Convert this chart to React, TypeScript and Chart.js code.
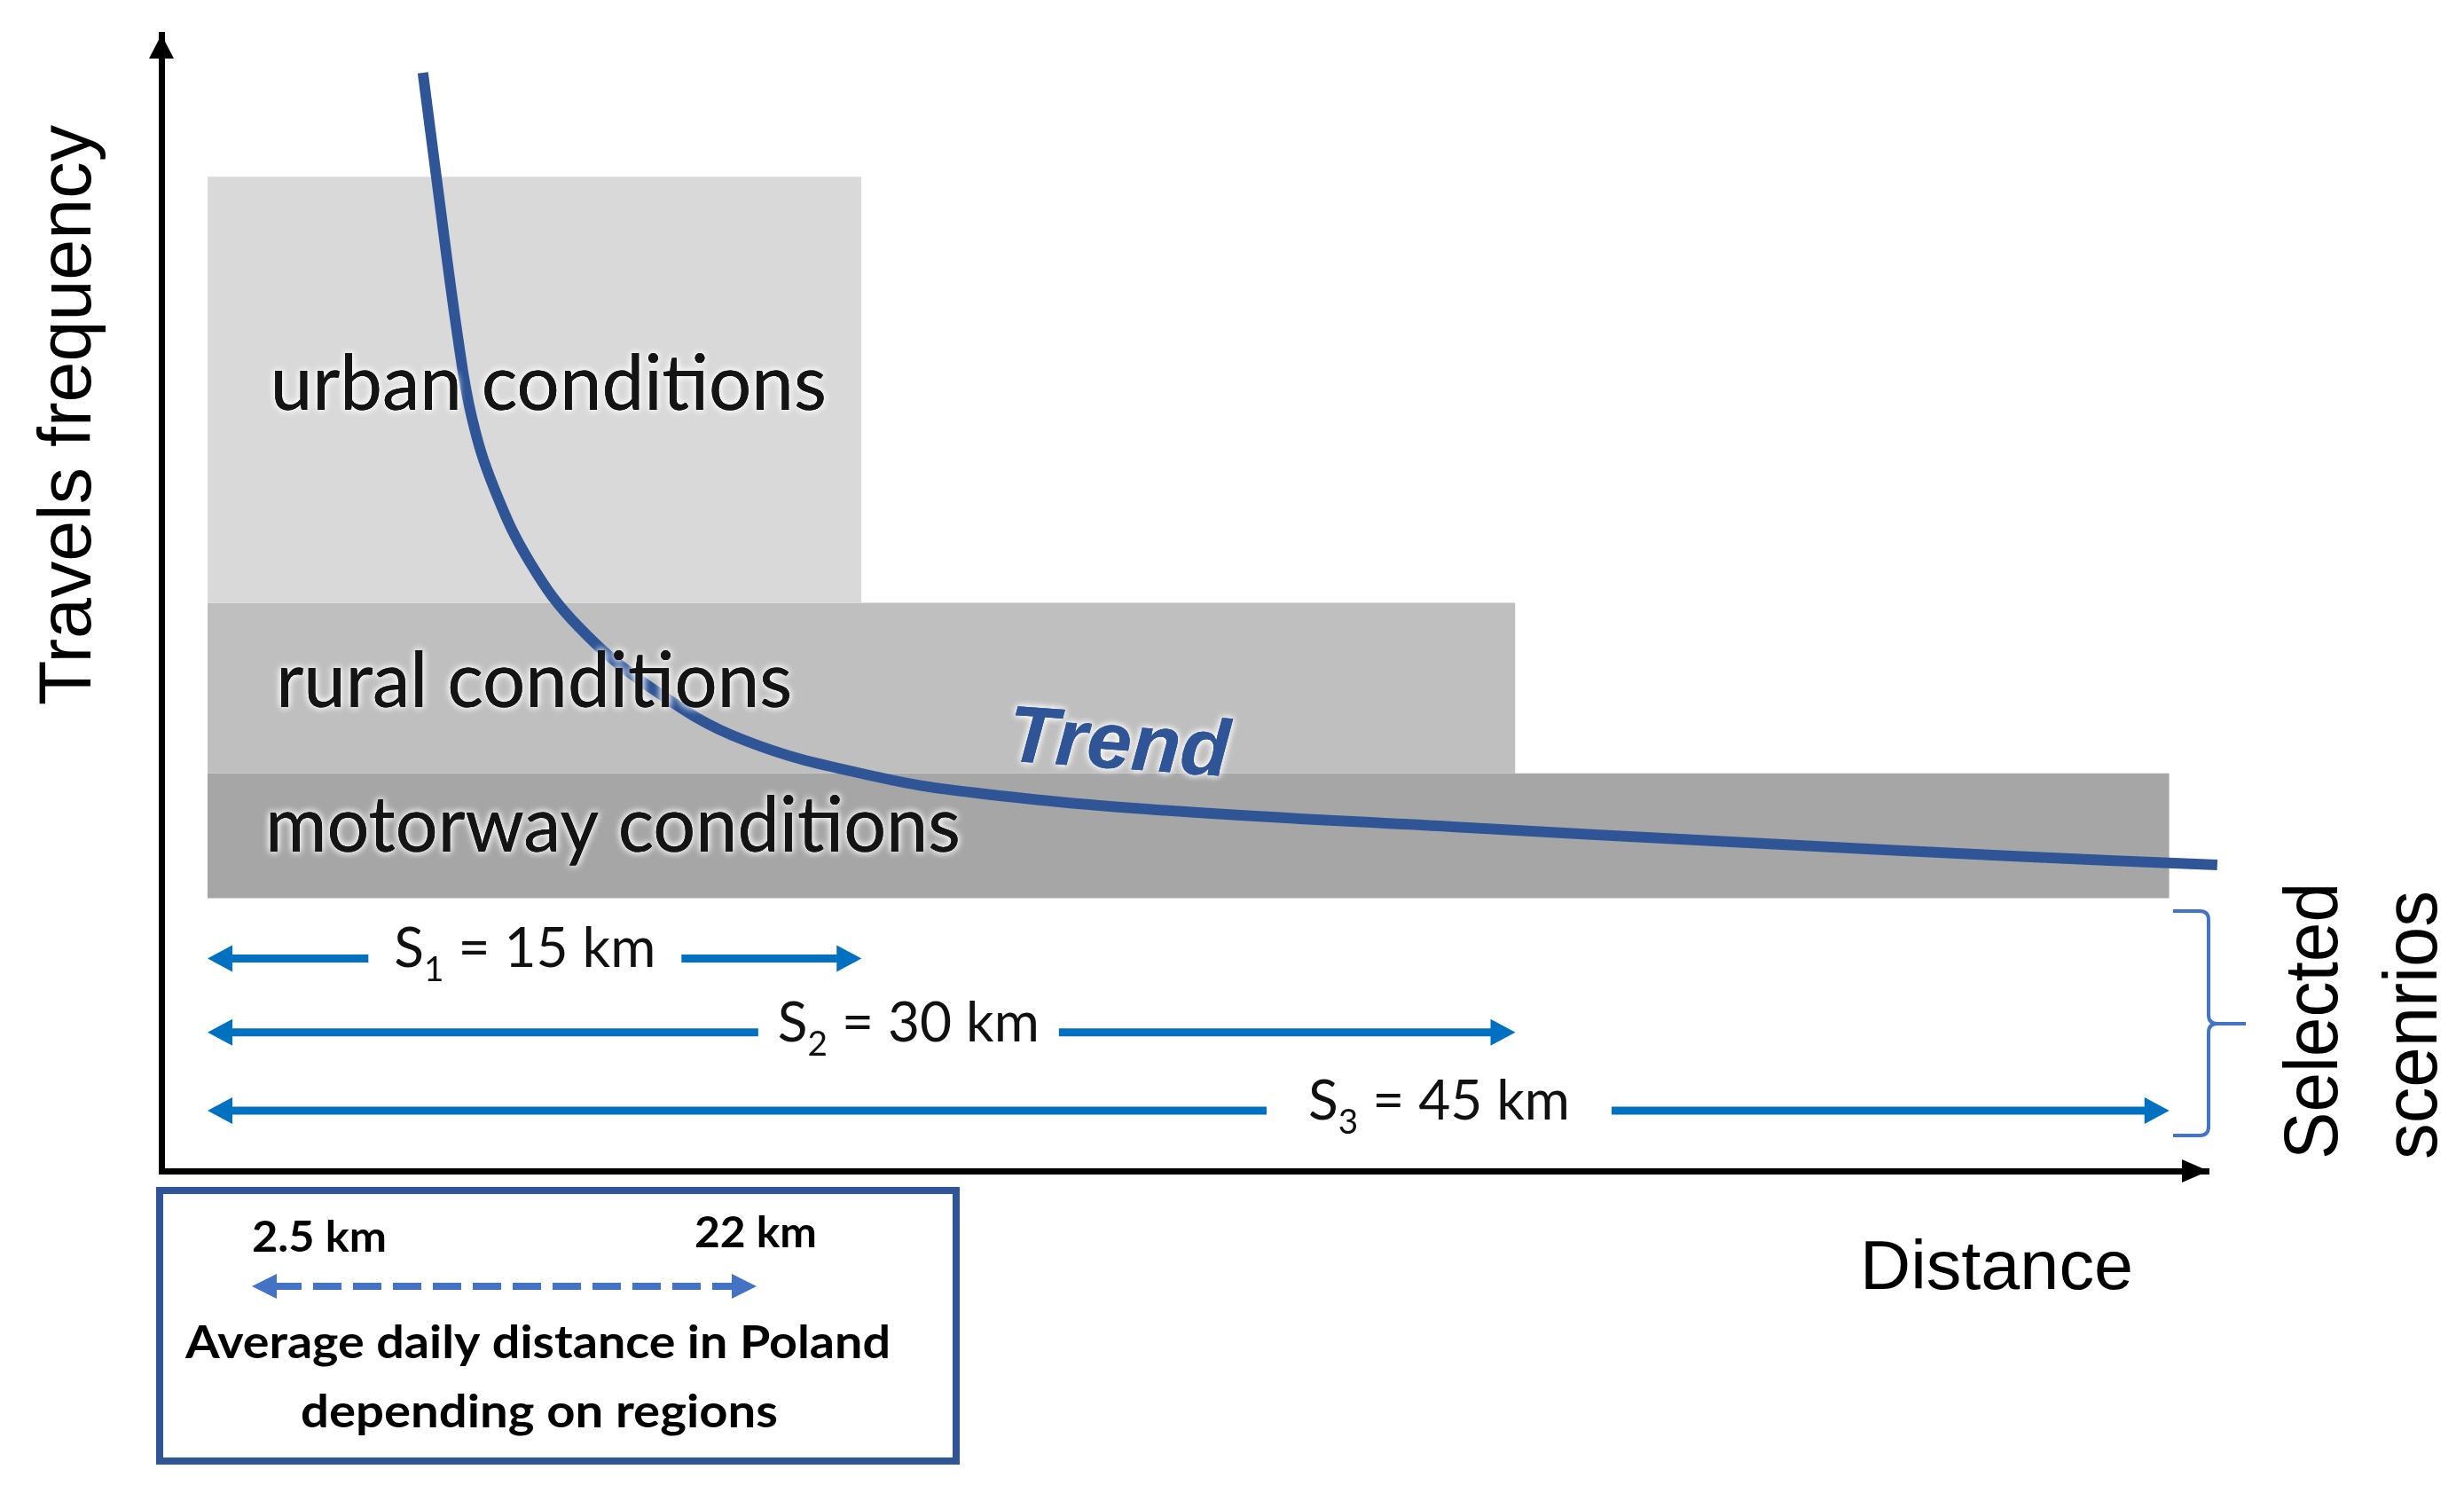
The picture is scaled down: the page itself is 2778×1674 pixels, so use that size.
import React, { useEffect, useRef } from "react";
import { Chart, registerables } from "chart.js";

Chart.register(...registerables);

const W = 2778;
const H = 1674;

// ---- Data ----
const regionNames = ["urban conditions", "rural conditions", "motorway conditions"];
const regionMaxKm = [15, 30, 45];
const regionTop = [87.5, 50, 35];
const regionBottom = [50, 35, 24];
const regionColors = ["#D9D9D9", "#BFBFBF", "#A6A6A6"];

const trendKm = [4.94, 5.25, 5.74, 6.06, 6.57, 7.41, 8.52, 10.19, 12.29, 15.38, 17.82, 22.12, 28.55, 34.95, 41.38, 46.1];
const trendFreq = [96.64, 87.43, 73.38, 66.35, 60.11, 53.47, 47.85, 42.47, 37.94, 34.66, 33.18, 31.69, 30.29, 28.96, 27.71, 26.93];

const scenarioSubs = ["1", "2", "3"];
const scenarioKm = [15, 30, 45];
const scenarioLevel = [18.7, 12.2, 5.3];

const legendLabels = ["2.5 km", "22 km"];
const legendText = ["Average daily distance in Poland", "depending on regions"];

const xAxisTitle = "Distance";
const yAxisTitle = "Travels frequency";
const bracketText = ["Selected", "scenrios"];
const trendLabel = "Trend";

// ---- Layout / style (not data) ----
const regionLabelPos = [
  { km: 1.44, f: 67.0, w: 627 },
  { km: 1.57, f: 40.8, w: 582 },
  { km: 1.32, f: 28.1, w: 784 },
];
const scenarioLabelKm = [7.28, 16.08, 28.25];
const scenarioGap = [29, 22, 47];

function fitText(ctx: CanvasRenderingContext2D, text: string, x: number, y: number, font: string, width: number) {
  ctx.font = font;
  const w = ctx.measureText(text).width;
  ctx.save();
  ctx.translate(x, y);
  ctx.scale(width / w, 1);
  ctx.textAlign = "left";
  ctx.textBaseline = "alphabetic";
  ctx.fillText(text, 0, 0);
  ctx.restore();
}

function withGlow(ctx: CanvasRenderingContext2D, draw: () => void) {
  ctx.save();
  ctx.shadowColor = "rgba(255,255,255,1)";
  ctx.shadowBlur = 9;
  draw();
  draw();
  ctx.restore();
  draw();
}

function head(ctx: CanvasRenderingContext2D, tipX: number, y: number, dir: number, len: number, half: number) {
  ctx.beginPath();
  ctx.moveTo(tipX, y);
  ctx.lineTo(tipX - dir * len, y - half);
  ctx.lineTo(tipX - dir * len, y + half);
  ctx.closePath();
  ctx.fill();
}

const overlay = {
  id: "overlay",
  afterDatasetsDraw(chart: any) {
    const ctx: CanvasRenderingContext2D = chart.ctx;
    const xs = chart.scales.x;
    const ys = chart.scales.y;
    const area = chart.chartArea;
    const px = (v: number) => xs.getPixelForValue(v);
    const py = (v: number) => ys.getPixelForValue(v);

    // region labels
    regionNames.forEach((name, i) => {
      const p = regionLabelPos[i];
      withGlow(ctx, () => {
        ctx.fillStyle = "#141414";
        fitText(ctx, name, px(p.km), py(p.f), "88px Lato", p.w);
      });
    });

    // Trend label
    withGlow(ctx, () => {
      ctx.save();
      ctx.translate(px(18.33), py(36.1));
      ctx.rotate((4 * Math.PI) / 180);
      ctx.fillStyle = "#2F5597";
      fitText(ctx, trendLabel, 0, 0, "bold italic 90px 'Liberation Sans'", 250);
      ctx.restore();
    });

    // Axis arrowheads
    ctx.fillStyle = "#000";
    ctx.beginPath();
    ctx.moveTo(area.left, area.top);
    ctx.lineTo(area.left - 14, area.top + 27);
    ctx.lineTo(area.left + 14, area.top + 27);
    ctx.closePath();
    ctx.fill();
    head(ctx, area.right, area.bottom, 1, 30, 13);

    // Scenario arrows
    const blue = "#0070C0";
    scenarioKm.forEach((km, i) => {
      const y = py(scenarioLevel[i]);
      const x1 = px(0);
      const x2 = px(km);
      const cx = px(scenarioLabelKm[i]);
      const mainFont = "61px Lato";
      const subFont = "38px Lato";
      const rest = " = " + km + " km";
      ctx.font = mainFont;
      const wS = ctx.measureText("S").width;
      const wR = ctx.measureText(rest).width;
      ctx.font = subFont;
      const wSub = ctx.measureText(scenarioSubs[i]).width;
      const total = wS + wSub + wR;
      const target = 295;
      const sx = target / total;
      const tl = cx - target / 2;
      const tr = cx + target / 2;
      ctx.save();
      ctx.translate(tl, y + 10);
      ctx.scale(sx, 1);
      ctx.fillStyle = "#111";
      ctx.font = mainFont;
      ctx.textBaseline = "alphabetic";
      ctx.textAlign = "left";
      ctx.fillText("S", 0, 0);
      ctx.font = subFont;
      ctx.fillText(scenarioSubs[i], wS, 16);
      ctx.font = mainFont;
      ctx.fillText(rest, wS + wSub, 0);
      ctx.restore();

      ctx.strokeStyle = blue;
      ctx.fillStyle = blue;
      ctx.lineWidth = 9;
      ctx.lineCap = "butt";
      ctx.beginPath();
      ctx.moveTo(x1 + 20, y);
      ctx.lineTo(tl - scenarioGap[i], y);
      ctx.moveTo(tr + scenarioGap[i], y);
      ctx.lineTo(x2 - 20, y);
      ctx.stroke();
      head(ctx, x1, y, -1, 28, 15);
      head(ctx, x2, y, 1, 28, 15);
    });

    // Bracket
    ctx.save();
    ctx.strokeStyle = "#4472C4";
    ctx.lineWidth = 4;
    ctx.lineJoin = "round";
    ctx.beginPath();
    const bx = 2490, bt = 1027, bb = 1280, bm = 1154, r = 10;
    ctx.moveTo(2450, bt);
    ctx.lineTo(bx - r, bt);
    ctx.quadraticCurveTo(bx, bt, bx, bt + r);
    ctx.lineTo(bx, bm - r);
    ctx.quadraticCurveTo(bx, bm, bx + r, bm);
    ctx.lineTo(2532, bm);
    ctx.moveTo(bx + r, bm);
    ctx.quadraticCurveTo(bx, bm, bx, bm + r);
    ctx.lineTo(bx, bb - r);
    ctx.quadraticCurveTo(bx, bb, bx - r, bb);
    ctx.lineTo(2450, bb);
    ctx.stroke();
    ctx.restore();

    // Rotated texts
    ctx.fillStyle = "#000";
    const rot = (text: string, bx: number, by: number, font: string, w: number) => {
      ctx.save();
      ctx.translate(bx, by);
      ctx.rotate(-Math.PI / 2);
      fitText(ctx, text, 0, 0, font, w);
      ctx.restore();
    };
    rot(bracketText[0], 2635, 1307, "86px 'Liberation Sans'", 312);
    rot(bracketText[1], 2747, 1307, "86px 'Liberation Sans'", 303);
    rot(yAxisTitle, 102, 795, "84px 'Liberation Sans'", 654);
    fitText(ctx, xAxisTitle, 2097, 1453, "78px 'Liberation Sans'", 308);

    // Legend box
    ctx.save();
    ctx.fillStyle = "#fff";
    ctx.fillRect(180, 1342, 898, 305);
    ctx.strokeStyle = "#2F5597";
    ctx.lineWidth = 8;
    ctx.strokeRect(180, 1342, 898, 305);
    ctx.fillStyle = "#000";
    fitText(ctx, legendLabels[0], 284, 1411, "bold 48px Lato", 152);
    fitText(ctx, legendLabels[1], 783, 1406, "bold 48px Lato", 138);
    fitText(ctx, legendText[0], 209, 1531, "bold 52px Lato", 795);
    fitText(ctx, legendText[1], 339, 1609, "bold 52px Lato", 538);
    const lblue = "#4472C4";
    ctx.strokeStyle = lblue;
    ctx.fillStyle = lblue;
    ctx.lineWidth = 8;
    ctx.setLineDash([32, 13]);
    ctx.beginPath();
    ctx.moveTo(284 + 24, 1450);
    ctx.lineTo(853 - 24, 1450);
    ctx.stroke();
    ctx.setLineDash([]);
    head(ctx, 284, 1450, -1, 28, 14);
    head(ctx, 853, 1450, 1, 28, 14);
    ctx.restore();
  },
};

export default function App() {
  const ref = useRef<HTMLCanvasElement>(null);
  useEffect(() => {
    let chart: Chart | null = null;
    let cancelled = false;
    const fonts = ["88px Lato", "bold 52px Lato", "bold italic 90px 'Liberation Sans'", "84px 'Liberation Sans'"];
    const fontSet: any = (document as any).fonts;
    const ready = fontSet ? Promise.all(fonts.map((f) => fontSet.load(f))).catch(() => null) : Promise.resolve(null);
    ready.then(() => {
      if (cancelled || !ref.current) return;
      const regionSets = regionNames.map((name, i) => ({
        label: name,
        data: [
          { x: 0, y: regionTop[i] },
          { x: regionMaxKm[i], y: regionTop[i] },
        ],
        fill: { value: regionBottom[i] },
        backgroundColor: regionColors[i],
        borderColor: "rgba(0,0,0,0)",
        borderWidth: 0,
        pointRadius: 0,
        tension: 0,
        order: 1,
      }));
      const trendSet = {
        label: "Trend",
        data: trendKm.map((k, i) => ({ x: k, y: trendFreq[i] })),
        borderColor: "#2F5597",
        borderWidth: 12,
        pointRadius: 0,
        fill: false,
        tension: 0.4,
        clip: false,
        order: 0,
      };
      chart = new Chart(ref.current, {
        type: "line",
        data: { datasets: [trendSet as any, ...regionSets] },
        options: {
          responsive: false,
          devicePixelRatio: 1,
          animation: false,
          events: [],
          layout: { padding: { left: 182, top: 39, right: 288, bottom: 354 } },
          plugins: { legend: { display: false }, tooltip: { enabled: false }, title: { display: false } },
          scales: {
            x: {
              type: "linear",
              min: -1.058,
              max: 45.9,
              grid: { display: false, drawTicks: false },
              ticks: { display: false },
              border: { display: true, color: "#000", width: 7 },
            },
            y: {
              type: "linear",
              min: 0,
              max: 100,
              grid: { display: false, drawTicks: false },
              ticks: { display: false },
              border: { display: true, color: "#000", width: 7 },
            },
          },
        },
        plugins: [overlay],
      });
    });
    return () => {
      cancelled = true;
      if (chart) chart.destroy();
    };
  }, []);
  return (
    <div style={{ position: "fixed", left: 0, top: 0, width: W, height: H, background: "#fff" }}>
      <canvas ref={ref} width={W} height={H} style={{ width: W, height: H, display: "block" }} />
    </div>
  );
}
